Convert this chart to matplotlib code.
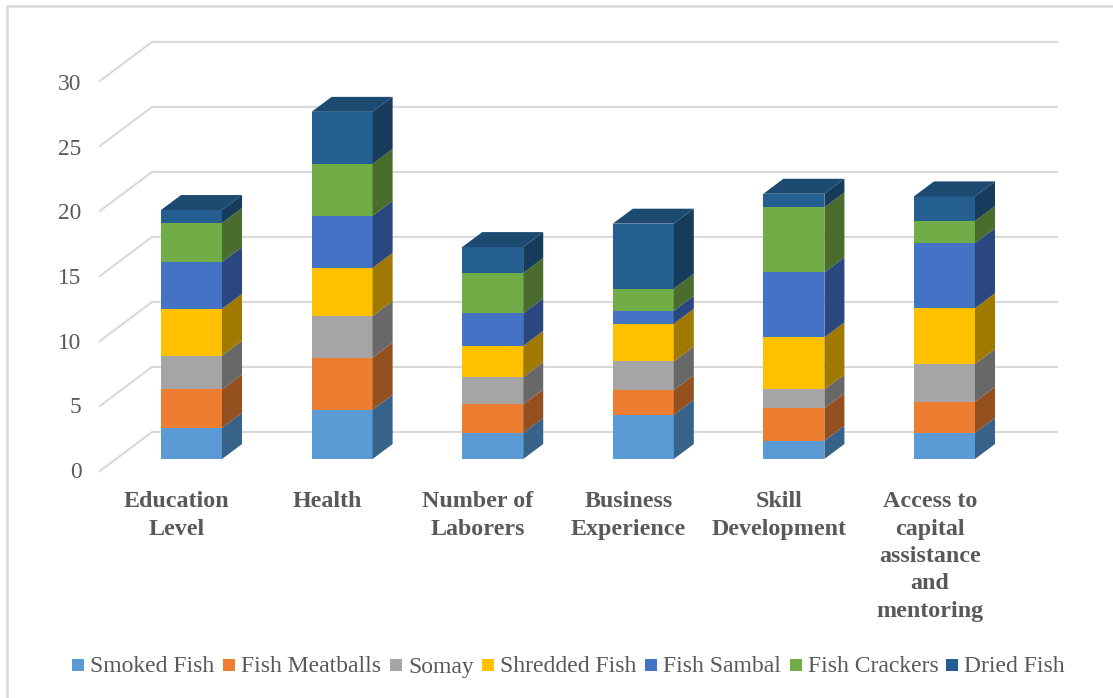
"""Stacked 3D-look column chart, drawn on a flat axes with an oblique offset."""

import matplotlib

matplotlib.use("Agg")
import matplotlib.pyplot as plt
import numpy as np
from matplotlib.patches import Rectangle

CATEGORIES = [
    "Education\nLevel",
    "Health",
    "Number of\nLaborers",
    "Business\nExperience",
    "Skill\nDevelopment",
    "Access to\ncapital\nassistance\nand\nmentoring",
]
SERIES = [
    "Smoked Fish",
    "Fish Meatballs",
    "Somay",
    "Shredded Fish",
    "Fish Sambal",
    "Fish Crackers",
    "Dried Fish",
]
SMOKED = [2.4, 3.8, 2.0, 3.4, 1.4, 2.0]
MEATBALLS = [2.95, 4.0, 2.2, 1.9, 2.5, 2.4]
SOMAY = [2.6, 3.2, 2.1, 2.2, 1.45, 2.9]
SHREDDED = [3.6, 3.7, 2.4, 2.9, 4.0, 4.3]
SAMBAL = [3.6, 4.0, 2.5, 1.0, 5.0, 5.0]
CRACKERS = [3.0, 4.0, 3.1, 1.7, 5.0, 1.7]
DRIED = [1.0, 4.0, 2.0, 5.0, 1.05, 1.9]
Y_TICKS = [0, 5, 10, 15, 20, 25, 30]

FRONT = ["#5B9BD5", "#ED7D31", "#A5A5A5", "#FFC000", "#4472C4", "#70AD47", "#255E91"]
SIDE = ["#37628A", "#955020", "#686868", "#A07A00", "#2A4780", "#4A6C2C", "#173B5B"]
TOP_COLOR = "#1C4A70"
TEXT = "#595959"
GRID = "#D9D9D9"
SERIF = "Liberation Serif"

W, H = 1113, 698
BAR_W = 0.405
# oblique offset of the bar depth and of the back wall, in data units
BAR_DX, BAR_DY = 0.133, 1.15
WALL_X0, WALL_X1 = -0.262, 5.747
FLOOR_X, FLOOR_Y = -0.608, -0.92
WALL_Y = 2.08
# left edge of each legend swatch, in pixels
LEGEND_X = [72, 223, 390, 482, 645, 790, 946]

fig = plt.figure(figsize=(W / 100, H / 100), dpi=100)
ax = fig.add_axes([0, 0, 1, 1])
ax.set_xlim(-1.2716, 6.119)
ax.set_ylim(-18.38, 35.3)
ax.axis("off")

# frame of the chart area: left and top only, the crop cuts the rest
ax.plot([-1.225, -1.225, 6.119], [-18.38, 34.85, 34.85], color=GRID, lw=1.8, clip_on=False)

for t in Y_TICKS:
    ax.plot([FLOOR_X, WALL_X0, WALL_X1], [t + FLOOR_Y, t + WALL_Y, t + WALL_Y],
            color=GRID, lw=1.5, zorder=1, solid_joinstyle="round")
    ax.text(FLOOR_X - 0.122, t * 0.995 - 1.05, str(t), ha="right", va="center",
            fontsize=16.8, color=TEXT, family=SERIF)

x = np.arange(len(CATEGORIES))
stack = np.array([SMOKED, MEATBALLS, SOMAY, SHREDDED, SAMBAL, CRACKERS, DRIED])
bottom = np.zeros(len(CATEGORIES))
for vals, front, side in zip(stack, FRONT, SIDE):
    ax.bar(x, vals, BAR_W, bottom=bottom, color=front, zorder=3)
    right = x + BAR_W / 2
    for r, b, v in zip(right, bottom, vals):
        ax.fill([r, r + BAR_DX, r + BAR_DX, r],
                [b, b + BAR_DY, b + v + BAR_DY, b + v], color=side, lw=0, zorder=3)
    bottom = bottom + vals

for xi, h in zip(x, bottom):
    left, right = xi - BAR_W / 2, xi + BAR_W / 2
    ax.fill([left, right, right + BAR_DX, left + BAR_DX],
            [h, h, h + BAR_DY, h + BAR_DY], color=TOP_COLOR, lw=0, zorder=3)

for xi, label in zip(x, CATEGORIES):
    ax.text(xi - 0.097, -2.47, label, ha="center", va="top", fontsize=17.3,
            fontweight="bold", color=TEXT, family=SERIF, linespacing=1.4)

# legend placed by hand so that all labels share one baseline
for px, name, color in zip(LEGEND_X, SERIES, FRONT):
    ax.add_patch(Rectangle((px / W, 1 - 671 / H), 12 / W, 12 / H, color=color, lw=0,
                           transform=ax.transAxes))
    ax.text((px + 18) / W, 1 - 672.5 / H, name, ha="left", va="baseline",
            fontsize=17, color=TEXT, family=SERIF, transform=ax.transAxes)

fig.savefig("out.png", dpi=100, facecolor="white")
